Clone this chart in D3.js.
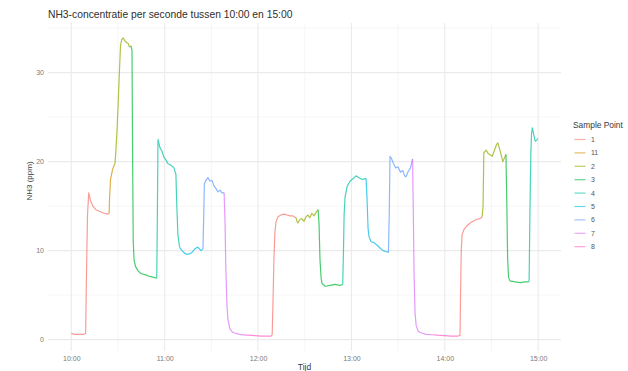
<!DOCTYPE html>
<html>
<head>
<meta charset="utf-8">
<script src="https://cdn.jsdelivr.net/npm/d3@7"></script>
<style>
  html, body { margin: 0; padding: 0; background: #fff; }
  svg { display: block; font-family: "Liberation Sans", Arial, sans-serif; }
</style>
</head>
<body>
<svg id="chart" width="628" height="371"></svg>
<script>
// Legend order of the sample points (factor levels)
const pointLevels = ["1", "11", "2", "3", "4", "5", "6", "7", "8"];
const pointColors = ["#F8766D", "#D39200", "#93AA00", "#00BA38", "#00C19F", "#00B9E3", "#619CFF", "#DB72FB", "#FF61C3"];

// Consecutive measurement runs: which sample point, minutes after 10:00, NH3 in ppm
const runPoint = ["1", "11", "2", "3", "4", "5", "6", "7", "8",
                  "1", "2", "3", "4", "5", "6", "7", "8",
                  "1", "2", "3", "4"];
const runMinutes = [
  [0, 2, 5, 8, 9.2, 9.8, 10.4, 11.2, 12.4, 13.8, 15.8, 18.3, 20.9, 23.5, 24.3],
  [24.6, 25.2, 26.5, 27.3, 28.0],
  [28.5, 29.4, 30.1, 30.7, 31.6, 32.4, 33.3, 34.3, 35.3, 36.5, 37.3, 38.3],
  [39.0, 39.4, 39.8, 40.3, 41.3, 43, 45, 47.3, 50.5, 53, 54.9],
  [55.3, 55.7, 56.9, 58.2, 59.5, 60.8, 62, 64, 65.9, 67.2, 67.8, 68.5, 69.4],
  [69.8, 71.7, 73.6, 75.5, 77.5, 79.4, 81.3, 83.3, 84.6],
  [85.1, 85.5, 86.5, 87.8, 89.1, 90.4, 91.6, 92.9, 94.2, 95.5, 96.8, 98.2],
  [98.8, 99.3, 100, 100.6, 101.9, 103.8, 108, 112],
  [114, 118, 122, 126, 128.6],
  [129.1, 129.7, 130.2, 130.8, 131.5, 132.8, 134.7, 136.7, 138.6, 140.5, 142.4, 144.4],
  [145, 145.6, 146.9, 148.2, 149.5, 150.8, 152, 153.3, 154.6, 155.9, 157.3, 158.6],
  [159.2, 159.8, 160.5, 161.1, 163.1, 166.3, 169.4, 172.7, 174.4],
  [174.9, 175.3, 175.9, 177.2, 179.1, 181.1, 183, 184.9, 186.9, 189.4],
  [190.0, 190.7, 191.3, 192.6, 194.5, 196.5, 198.4, 200.3, 202.2, 203.8],
  [204.3, 204.8, 205.6, 207, 208.5, 210, 211.5, 213, 214.2, 215.1, 216.5, 218, 219.3],
  [219.8, 220.3, 220.9, 221.6, 222.8, 224.1, 228, 232],
  [235, 240, 244, 248.5],
  [249.8, 250.2, 250.6, 251.1, 252.4, 254.3, 256.3, 258.2, 260.1, 262.7, 264.0],
  [264.6, 265.1, 266.6, 267.9, 270.5, 272, 273.2, 274.1, 275.3, 277.3, 279.3],
  [279.9, 280.4, 281, 281.9, 285.2, 288.4, 291.6, 293.8],
  [294.2, 294.7, 295.3, 295.8, 296.3, 297.1, 298.1, 299.0, 299.7]
];
const runPpm = [
  [0.7, 0.6, 0.6, 0.6, 0.7, 8, 14, 16.5, 15.6, 15.0, 14.6, 14.4, 14.2, 14.1, 14.2],
  [16.0, 18.0, 19.1, 19.5, 19.7],
  [20.8, 23.6, 26.5, 29.2, 33.0, 33.7, 33.9, 33.6, 33.4, 33.3, 32.9, 33.0],
  [32.5, 20, 11, 9.0, 8.2, 7.7, 7.4, 7.3, 7.1, 7.0, 6.9],
  [14, 22.5, 21.6, 21.2, 20.5, 20.2, 19.8, 19.6, 19.3, 18.6, 15, 11.8, 10.6],
  [10.3, 9.9, 9.6, 9.6, 9.8, 10.2, 10.4, 10.0, 10.2],
  [14, 17.5, 17.9, 18.2, 17.8, 17.9, 17.3, 17.0, 16.6, 16.8, 16.5, 16.5],
  [13, 8, 4, 2.3, 1.2, 0.8, 0.6, 0.5],
  [0.5, 0.45, 0.4, 0.4, 0.4],
  [0.6, 5, 9, 12, 13.2, 13.8, 14.0, 14.1, 14.0, 13.9, 13.9, 13.7],
  [13.3, 13.1, 13.5, 13.6, 13.3, 13.8, 14.0, 13.7, 14.2, 13.9, 14.3, 14.6],
  [13, 9, 7.0, 6.3, 6.0, 6.1, 6.2, 6.1, 6.2],
  [10, 14, 16, 17.2, 17.8, 18.1, 18.4, 18.2, 18.0, 18.1],
  [16, 12.5, 11.6, 11.0, 10.9, 10.6, 10.3, 10.0, 9.9, 9.8],
  [14, 20.6, 20.4, 19.8, 19.3, 19.4, 18.8, 19.0, 18.4, 18.3, 18.9, 19.3, 20.3],
  [14, 7, 3, 1.6, 1.0, 0.8, 0.6, 0.55],
  [0.5, 0.45, 0.4, 0.4],
  [0.5, 6, 10, 11.8, 12.4, 12.8, 13.1, 13.3, 13.5, 13.6, 13.8],
  [15, 21.0, 21.3, 20.9, 20.6, 21.3, 21.9, 22.1, 21.4, 20.0, 20.8],
  [15, 9, 7, 6.6, 6.5, 6.4, 6.5, 6.5],
  [6.6, 14, 21, 23.3, 23.8, 23.1, 22.3, 22.4, 22.6]
];

const titleText = "NH3-concentratie per seconde tussen 10:00 en 15:00";
const xTitle = "Tijd";
const yTitle = "NH3 (ppm)";
const legendTitle = "Sample Point";
const yTicks = [0, 10, 20, 30];
const yMinor = [5, 15, 25, 35];

// ---- layout ----
const svg = d3.select("#chart");
const panel = { left: 48, right: 561, top: 23, bottom: 351 };

const start = Date.UTC(2023, 0, 1, 10, 0, 0);
const toDate = m => new Date(start + m * 60000);

// Each run is drawn from the last reading of the run before it, so the
// switch between sample points shows as one continuous trace.
const runs = runPoint.map((p, i) => {
  const pts = runMinutes[i].map((m, j) => ({ t: toDate(m), v: runPpm[i][j] }));
  if (i > 0) {
    const k = runMinutes[i - 1].length - 1;
    pts.unshift({ t: toDate(runMinutes[i - 1][k]), v: runPpm[i - 1][k] });
  }
  return { point: p, values: pts };
});

const allT = runMinutes.flat();
const allV = runPpm.flat();
const expand = ([a, b]) => [a - (b - a) * 0.05, b + (b - a) * 0.05];
const tExt = expand(d3.extent(allT));
const vExt = expand(d3.extent(allV));

const x = d3.scaleUtc().domain(tExt.map(toDate)).range([panel.left, panel.right]);
const y = d3.scaleLinear().domain(vExt).range([panel.bottom, panel.top]);
const color = d3.scaleOrdinal().domain(pointLevels).range(pointColors);

// ---- grid ----
const grid = svg.append("g");
const hourTicks = d3.utcHour.every(1).range(toDate(0), toDate(301));
const halfTicks = d3.utcMinute.every(30).range(toDate(-15), toDate(315))
  .filter(d => d.getUTCMinutes() === 30);

grid.selectAll(".vminor").data(halfTicks).join("line")
  .attr("x1", d => x(d)).attr("x2", d => x(d))
  .attr("y1", panel.top).attr("y2", panel.bottom)
  .attr("stroke", "#f4f4f4").attr("stroke-width", 0.8);
grid.selectAll(".hminor").data(yMinor).join("line")
  .attr("x1", panel.left).attr("x2", panel.right)
  .attr("y1", d => y(d)).attr("y2", d => y(d))
  .attr("stroke", "#f4f4f4").attr("stroke-width", 0.8);
grid.selectAll(".vmajor").data(hourTicks).join("line")
  .attr("x1", d => x(d)).attr("x2", d => x(d))
  .attr("y1", panel.top).attr("y2", panel.bottom)
  .attr("stroke", "#ebebeb").attr("stroke-width", 1.1);
grid.selectAll(".hmajor").data(yTicks).join("line")
  .attr("x1", panel.left).attr("x2", panel.right)
  .attr("y1", d => y(d)).attr("y2", d => y(d))
  .attr("stroke", "#ebebeb").attr("stroke-width", 1.1);

// ---- axes (labels only, as in a minimal theme) ----
const xAxis = svg.append("g")
  .attr("transform", `translate(0,${panel.bottom})`)
  .call(d3.axisBottom(x).tickValues(hourTicks).tickFormat(d3.utcFormat("%H:%M")).tickSize(0).tickPadding(5));
const yAxis = svg.append("g")
  .attr("transform", `translate(${panel.left},0)`)
  .call(d3.axisLeft(y).tickValues(yTicks).tickSize(0).tickPadding(4));
[xAxis, yAxis].forEach(a => {
  a.select(".domain").remove();
  a.selectAll("text").attr("fill", "#7a7a7a").style("font-size", "7px")
    .style("font-family", "'Liberation Sans', Arial, sans-serif");
});

// ---- lines ----
const line = d3.line().x(d => x(d.t)).y(d => y(d.v));
svg.append("g").selectAll("path").data(runs).join("path")
  .attr("d", d => line(d.values))
  .attr("fill", "none")
  .attr("stroke", d => color(d.point))
  .attr("stroke-opacity", 0.72)
  .attr("stroke-width", 1.2)
  .attr("stroke-linejoin", "round");

// ---- titles ----
svg.append("text").attr("x", panel.left).attr("y", 18)
  .attr("fill", "#2e2e2e").style("font-size", "10.3px").text(titleText);
svg.append("text").attr("x", (panel.left + panel.right) / 2).attr("y", 370)
  .attr("text-anchor", "middle").attr("fill", "#3a3a3a").style("font-size", "8.5px").text(xTitle);
svg.append("text")
  .attr("transform", `translate(32,${(panel.top + panel.bottom) / 2 - 6}) rotate(-90)`)
  .attr("text-anchor", "middle").attr("fill", "#3a3a3a").style("font-size", "8px").text(yTitle);

// ---- legend ----
const legend = svg.append("g").attr("transform", "translate(573,0)");
legend.append("text").attr("x", 0).attr("y", 128)
  .attr("fill", "#3a3a3a").style("font-size", "8.4px").text(legendTitle);
const items = legend.selectAll(".item").data(pointLevels).join("g")
  .attr("transform", (d, i) => `translate(0,${139.5 + i * 13.4})`);
items.append("line").attr("x1", 1.5).attr("x2", 12.5).attr("y1", 0).attr("y2", 0)
  .attr("stroke", d => color(d)).attr("stroke-opacity", 0.6).attr("stroke-width", 1.2);
items.append("text").attr("x", 18).attr("y", 2.5)
  .attr("fill", "#555").style("font-size", "7px").text(d => d);
</script>
</body>
</html>
